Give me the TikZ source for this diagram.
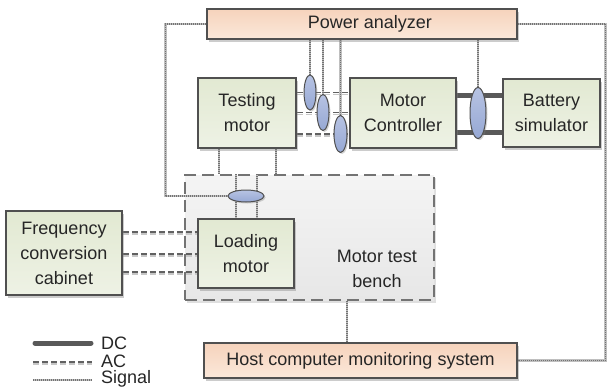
\documentclass[tikz,border=0pt]{standalone}
\usepackage{fontspec}
\setmainfont{Liberation Sans}
\usetikzlibrary{shapes.geometric,shadows,backgrounds,calc}
\definecolor{peachA}{HTML}{F6D3BC}
\definecolor{peachB}{HTML}{FBE8DA}
\definecolor{greenA}{HTML}{E2E9D2}
\definecolor{greenB}{HTML}{EEF2E5}
\definecolor{benchA}{HTML}{F4F4F4}
\definecolor{benchB}{HTML}{E7E7E7}
\definecolor{lensA}{HTML}{B7C3E3}
\definecolor{lensB}{HTML}{96A8D4}
\definecolor{edge}{HTML}{505050}

\begin{document}
\begin{tikzpicture}[x=1pt,y=-1pt,
  lbl/.style={font=\fontsize{18}{25}\selectfont, align=center, text=black!85},
  box/.style={lbl, draw=edge, line width=1.6pt, inner sep=0pt,
    drop shadow={shadow xshift=2pt, shadow yshift=-2.5pt, opacity=0.4}},
  greenbox/.style={box, top color=greenA, bottom color=greenB},
  peachbox/.style={box, top color=peachA, bottom color=peachB},
  lensnode/.style={ellipse, draw=edge, line width=1pt, top color=lensA, bottom color=lensB,
    inner sep=0pt, drop shadow={shadow xshift=1.5pt, shadow yshift=-1.5pt, opacity=0.35}},
  sig/.style={draw=black!55, line width=1.1pt, dash pattern=on 1pt off 1pt,
    preaction={draw=black!25, line width=2.8pt, solid}},
  ac/.style={draw=black!62, line width=1.5pt, dash pattern=on 6pt off 3pt,
    preaction={draw=black!22, line width=1.5pt, dash pattern=on 6pt off 3pt,
      transform canvas={yshift=-1.8pt}}},
  dc/.style={draw=black!65, line width=5pt},
  leg/.style={font=\fontsize{18}{20}\selectfont, text=black!85, inner sep=0pt, anchor=west}
]
\useasboundingbox (0,0) rectangle (608,388);

% main units
\node[peachbox, minimum width=310, minimum height=30] (pa) at (362,24) {\hspace*{16pt}Power analyzer};
\node[greenbox, minimum width=98, minimum height=70] (tm) at (247,113) {Testing\\motor};
\node[greenbox, minimum width=106, minimum height=70] (mc) at (403,113) {Motor\\Controller};
\node[greenbox, minimum width=97, minimum height=68] (bs) at (551.5,113) {Battery\\simulator};
\node[greenbox, minimum width=96, minimum height=69] (lm) at (246,253.5) {Loading\\motor};
\node[greenbox, minimum width=116, minimum height=84] (fc) at (64,253) {Frequency\\conversion\\cabinet};
\node[peachbox, minimum width=313, minimum height=35] (host) at (360.5,360.5) {Host computer monitoring system};

% current sensors
\node[lensnode, minimum width=12, minimum height=35] (e1) at (310,92.5) {};
\node[lensnode, minimum width=12, minimum height=36] (e2) at (323,112.5) {};
\node[lensnode, minimum width=13, minimum height=37] (e3) at (340.5,134) {};
\node[lensnode, minimum width=16, minimum height=51] (e4) at (478,113) {};
\node[lensnode, minimum width=36, minimum height=12] (e5) at (246,196) {};

\begin{scope}[on background layer]
  % test bench enclosure
  \node[draw=black!55, line width=1.8pt, dash pattern=on 12pt off 6pt,
    top color=benchA, bottom color=benchB, minimum width=249, minimum height=125,
    drop shadow={shadow xshift=2pt, shadow yshift=-2.5pt, opacity=0.25}]
    (bench) at (309.5,237.5) {};

  % signal wiring
  \draw[sig] (pa.west) -- ++(-41,0) |- (e5.west);
  \draw[sig] (pa.east) -- ++(88,0) |- (host.east);
  \draw[sig] ([xshift=37.5pt]bench.south) -- ([xshift=37.5pt]bench.south |- host.north);
  \foreach \e in {e1,e2,e3,e4}
    \draw[sig] (pa.south -| \e) -- (\e.center);
  \foreach \dx in {-28,29}
    \draw[sig] ([xshift=\dx pt]tm.south) -- ([xshift=\dx pt]tm.south |- bench.north);
  \foreach \dx in {-10,11}
    \draw[sig] ([xshift=\dx pt]e5.center |- bench.north) -- ([xshift=\dx pt]e5.center |- lm.north);

  % AC wiring
  \foreach \e in {e1,e2,e3}
    \draw[ac] (tm.east |- \e) -- (mc.west |- \e);
  \foreach \dy in {21,-1,-19}
    \draw[ac] ([yshift=\dy pt]fc.east) -- ([yshift=\dy pt]fc.east -| lm.west);

  % DC wiring
  \foreach \dy in {18,-19}
    \draw[dc] ([yshift=\dy pt]mc.east) -- ([yshift=\dy pt]mc.east -| bs.west);
\end{scope}

\node[lbl] (benchlbl) at (377,269) {Motor test\\bench};

% legend
\coordinate (dcA) at (35,343);  \coordinate (dcB) at (91,343);
\coordinate (acA) at (33,362);  \coordinate (acB) at (92,362);
\coordinate (sgA) at (33,380);  \coordinate (sgB) at (92,380);
\draw[dc, line cap=round] (dcA) -- (dcB);
\draw[ac] (acA) -- (acB);
\draw[sig] (sgA) -- (sgB);
\node[leg] (tdc) at (101,343) {DC};
\node[leg] (tac) at (101,361) {AC};
\node[leg] (tsg) at (101,379) {Signal};
\end{tikzpicture}
\end{document}
